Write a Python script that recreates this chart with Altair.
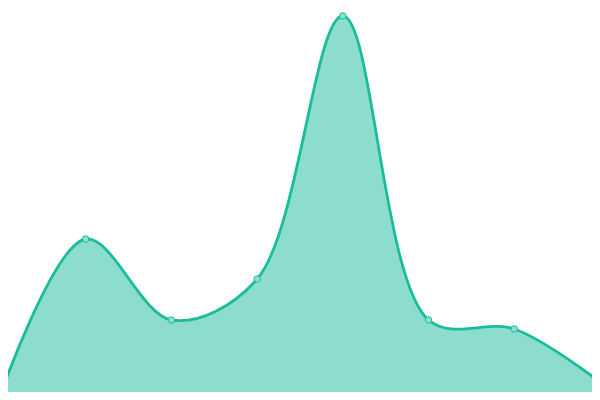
import altair as alt
import pandas as pd

idx = [0, 1, 2, 3, 4, 5, 6, 7]
values = [4, 161, 80, 121, 384, 80, 71, 18]

df = pd.DataFrame({"i": idx, "v": values})

x = alt.X("i:Q", axis=None,
          scale=alt.Scale(domain=[0.0933, 6.9067], nice=False, zero=False))
y = alt.Y("v:Q", axis=None, scale=alt.Scale(domain=[8, 392], nice=False, zero=False))

base = alt.Chart(df).encode(x=x, y=y)

area = base.mark_area(interpolate="catmull-rom", color="#1abc9c", opacity=0.5,
                      clip=True).encode(y2=alt.datum(0))
line = base.mark_line(interpolate="catmull-rom", color="#1abc9c", strokeWidth=2.8,
                      clip=True)
pts = base.mark_point(filled=True, size=42, fill="#8ce0cf", stroke="#1abc9c",
                      strokeWidth=1, opacity=1, fillOpacity=1, clip=True)

chart = (area + line + pts).properties(
    width=584, height=384, padding=0, autosize="none"
).configure_view(stroke=None)

chart.save("out.html", embed_options={"renderer": "svg", "actions": False})
